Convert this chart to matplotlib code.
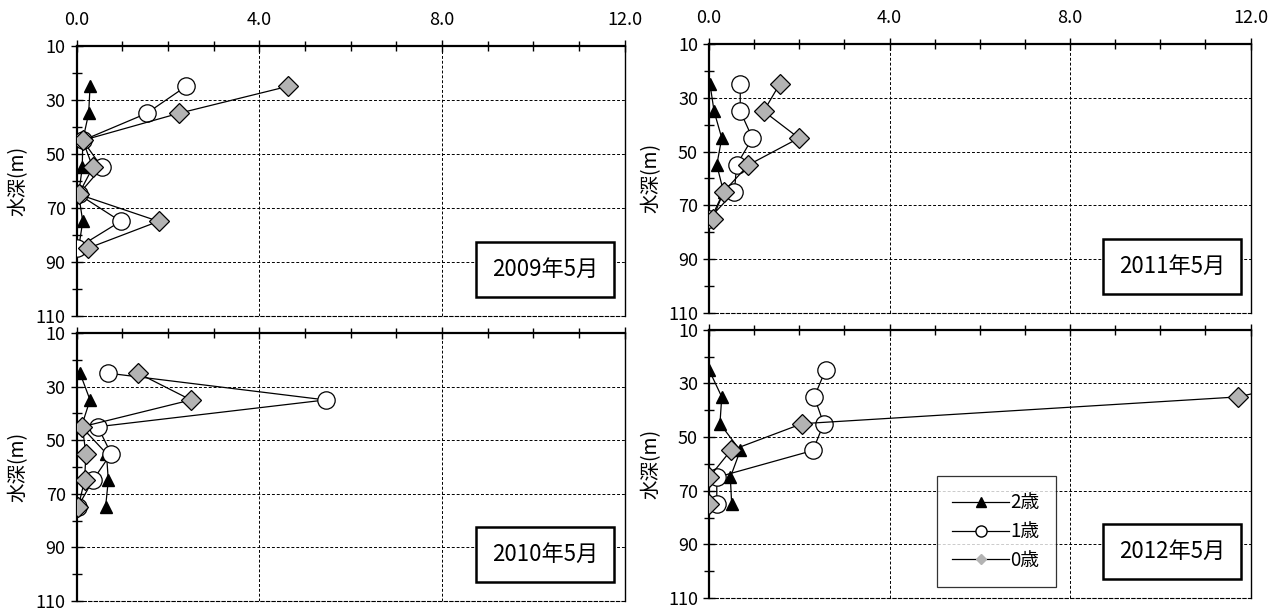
import numpy as np
import matplotlib
matplotlib.use('Agg')
import matplotlib.pyplot as plt
from matplotlib.lines import Line2D

plt.rcParams['font.family'] = ['Liberation Sans Narrow', 'Noto Sans CJK JP', 'DejaVu Sans']

# data: density by depth, one set per survey
depth = [25, 35, 45, 55, 65, 75, 85]

titles = ['2009年5月', '2010年5月', '2011年5月', '2012年5月']

age2 = [[0.29, 0.26, 0.13, 0.12, 0.04, 0.13, 0.04],
        [0.07, 0.29, 0.10, 0.65, 0.69, 0.63],
        [0.02, 0.11, 0.28, 0.17, 0.32, 0.04],
        [0.00, 0.28, 0.24, 0.69, 0.47, 0.50]]
age1 = [[2.39, 1.53, 0.13, 0.55, 0.04, 0.96, 0.00],
        [0.68, 5.45, 0.46, 0.75, 0.35, 0.02],
        [0.69, 0.69, 0.96, 0.61, 0.56, 0.00],
        [2.58, 2.33, 2.54, 2.30, 0.17, 0.17]]
age0 = [[4.62, 2.23, 0.13, 0.35, 0.04, 1.79, 0.24],
        [1.34, 2.50, 0.12, 0.20, 0.17, 0.03],
        [1.56, 1.21, 1.99, 0.87, 0.32, 0.08],
        [14.3, 11.73, 2.06, 0.48, 0.00, 0.00]]

series_labels = ['2歳', '1歳', '0歳']

fig = plt.figure(figsize=(12.8, 6.12), dpi=100)

# axes rectangles (left, bottom, width, height) in figure fraction
rects = [[0.060, 0.484, 0.428, 0.441],
         [0.060, 0.018, 0.428, 0.438],
         [0.554, 0.489, 0.423, 0.439],
         [0.554, 0.023, 0.423, 0.438]]

gray = '#b3b3b3'

for i in range(4):
    ax = fig.add_axes(rects[i])
    n = len(age2[i])
    d = depth[:n]
    ax.plot(age2[i], d, '-', color='black', lw=0.9, marker='^', ms=8.5,
            mfc='black', mec='black', zorder=3)
    ax.plot(age1[i], d, '-', color='black', lw=0.9, marker='o', ms=12.5,
            mfc='white', mec='black', mew=0.9, zorder=4)
    ax.plot(age0[i], d, '-', color='black', lw=0.9, marker='D', ms=10,
            mfc=gray, mec='black', mew=0.9, zorder=5)

    ax.set_xlim(0, 12)
    ax.set_ylim(110, 10)
    ax.xaxis.tick_top()
    ax.set_xticks([0, 4, 8, 12])
    ax.set_xticks(np.arange(0, 13, 1), minor=True)
    ax.set_yticks([10, 30, 50, 70, 90, 110])
    ax.set_yticks([20, 40, 60, 80, 100], minor=True)
    if i in (0, 2):
        ax.set_xticklabels(['0.0', '4.0', '8.0', '12.0'])
    else:
        ax.set_xticklabels([])
    ax.tick_params(axis='both', which='both', direction='inout', width=1.0,
                   labelsize=13)
    ax.tick_params(axis='both', which='major', length=8)
    ax.tick_params(axis='both', which='minor', length=7)
    ax.tick_params(axis='x', which='both', bottom=False, top=True, pad=8)
    ax.tick_params(axis='y', which='both', right=False, left=True, pad=4)

    for v in [4, 8]:
        ax.axvline(v, color='black', lw=0.7, ls=(0, (3, 2)), zorder=1)
    for v in [30, 50, 70, 90]:
        ax.axhline(v, color='black', lw=0.7, ls=(0, (3, 2)), zorder=1)

    ax.spines['top'].set_linewidth(1.6)
    ax.spines['left'].set_linewidth(1.6)
    ax.spines['right'].set_linewidth(1.0)
    ax.spines['bottom'].set_linewidth(0.8)
    ax.spines['bottom'].set_linestyle((0, (3, 2)))

    ax.set_ylabel('水深(m)', fontsize=14, labelpad=5)

    ax.text(0.855, 0.172, titles[i], transform=ax.transAxes, ha='center', va='center',
            fontsize=16, zorder=10,
            bbox=dict(boxstyle='square,pad=0.72', fc='white', ec='black', lw=1.8))

    if i == 3:
        handles = [Line2D([], [], color='black', lw=0.9, marker='^', ms=7, mfc='black', mec='black'),
                   Line2D([], [], color='black', lw=0.9, marker='o', ms=8, mfc='white', mec='black'),
                   Line2D([], [], color='black', lw=0.9, marker='D', ms=5, mfc=gray, mec=gray)]
        leg = ax.legend(handles, series_labels, loc='lower left', bbox_to_anchor=(0.42, 0.041),
                        fontsize=13.5, frameon=True, fancybox=False, handlelength=3.0,
                        handletextpad=0.1, labelspacing=0.42, borderpad=0.85,
                        borderaxespad=0)
        leg.get_frame().set_edgecolor('black')
        leg.get_frame().set_linewidth(0.9)
        leg.set_zorder(10)

fig.savefig('out.png', dpi=100)
